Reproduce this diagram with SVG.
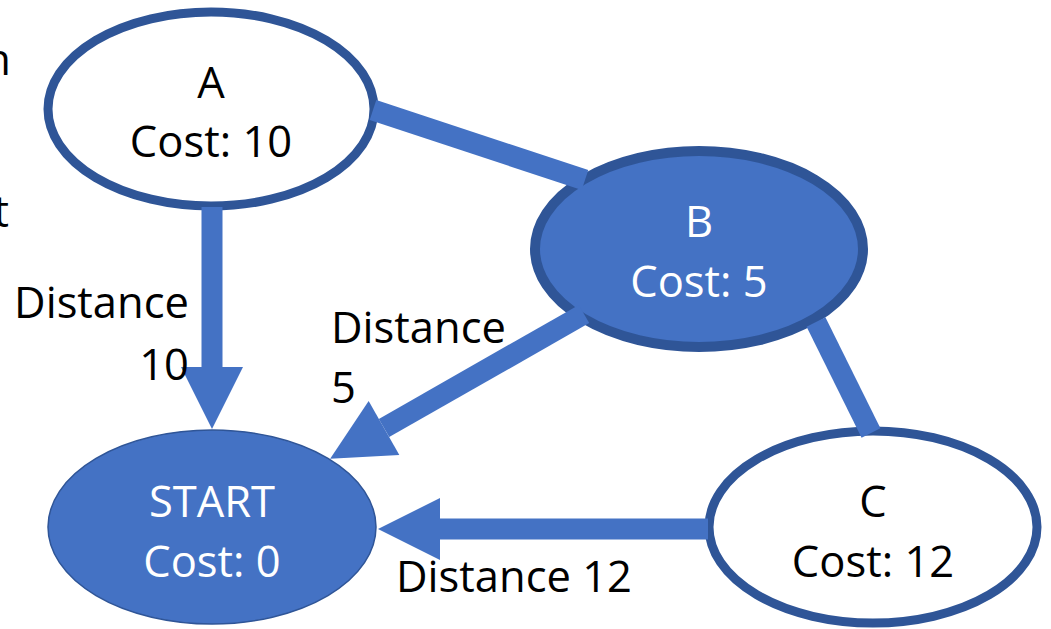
<svg xmlns="http://www.w3.org/2000/svg" width="1051" height="629" viewBox="0 0 1051 629">
  <defs>
    <style>
      text { font-family: "Open Sans", "Noto Sans", "Liberation Sans", sans-serif; font-size: 43.5px; }
      .dark { fill: #000000; }
      .light { fill: #FFFFFF; }
      .mid { text-anchor: middle; }
      .end { text-anchor: end; }
      .hollow { fill: #FFFFFF; stroke: #2F5597; stroke-width: 9; }
      .solid { fill: #4472C4; stroke: #2F5597; stroke-width: 10; }
      .solid-thin { fill: #4472C4; stroke: #2F5597; stroke-width: 1.5; }
      .edge { stroke: #4472C4; stroke-width: 21; fill: none; stroke-linecap: butt; }
      .arrow { marker-end: url(#head); }
    </style>
    <!-- wide triangular head; the shaft stops at its base -->
    <marker id="head" markerUnits="userSpaceOnUse" markerWidth="64" markerHeight="64" refX="0" refY="31" orient="auto" overflow="visible">
      <path d="M0,0 L62,31 L0,62 Z" fill="#4472C4"/>
    </marker>
  </defs>

  <!-- text running in from the left margin -->
  <text class="dark end" x="11" y="75">n</text>
  <text class="dark end" x="9" y="227">t</text>

  <g id="node-a">
    <ellipse class="hollow" cx="211" cy="109" rx="163" ry="97"/>
    <text class="dark mid" x="211" y="98">A</text>
    <text class="dark mid" x="211" y="157">Cost: 10</text>
  </g>

  <g id="node-b">
    <ellipse class="solid" cx="699" cy="249" rx="164" ry="98"/>
    <text class="light mid" x="699" y="237">B</text>
    <text class="light mid" x="699" y="297">Cost: 5</text>
  </g>

  <g id="node-start">
    <ellipse class="solid-thin" cx="212" cy="527" rx="164" ry="97"/>
    <text class="light mid" x="212" y="517">START</text>
    <text class="light mid" x="212" y="577">Cost: 0</text>
  </g>

  <g id="node-c">
    <ellipse class="hollow" cx="873" cy="527" rx="164" ry="96"/>
    <text class="dark mid" x="873" y="517">C</text>
    <text class="dark mid" x="873" y="577">Cost: 12</text>
  </g>

  <g id="connectors">
    <line class="edge" x1="373" y1="110" x2="585" y2="180"/>
    <line class="edge" x1="816" y1="322" x2="871" y2="433"/>
    <line class="edge arrow" x1="212" y1="207" x2="212" y2="367"/>
    <line class="edge arrow" x1="584" y1="314" x2="384" y2="428"/>
    <line class="edge arrow" x1="708" y1="529" x2="440" y2="529"/>

    <text class="dark end" x="189" y="318">Distance</text>
    <text class="dark end" x="189" y="380">10</text>
    <text class="dark" x="331" y="343">Distance</text>
    <text class="dark" x="331" y="403">5</text>
    <text class="dark" x="396" y="592">Distance 12</text>
  </g>
</svg>
